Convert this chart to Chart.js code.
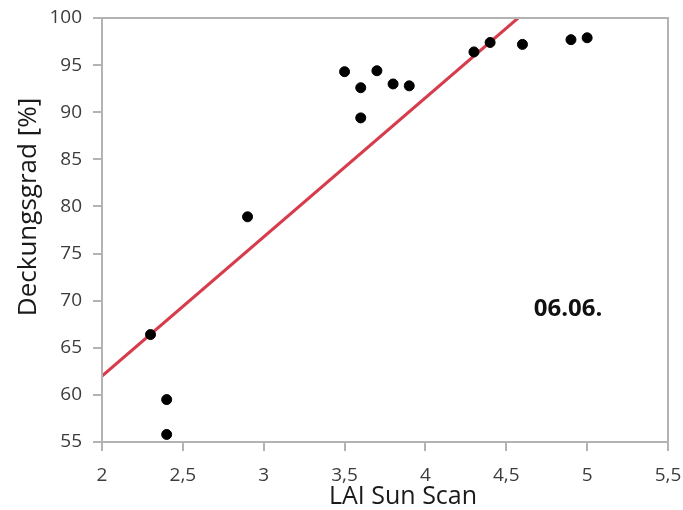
<!DOCTYPE html>
<html>
<head>
<meta charset="utf-8">
<script src="https://cdn.jsdelivr.net/npm/chart.js@4/dist/chart.umd.min.js"></script>
<style>
  html, body { margin: 0; padding: 0; background: #fff; }
  #wrap { width: 683px; height: 510px; }
</style>
</head>
<body>
<div id="wrap"><canvas id="myChart"></canvas></div>
<script>
// measured points: LAI (Sun Scan) vs. Deckungsgrad
let laiValues = [2.3, 2.4, 2.4, 2.9, 3.5, 3.6, 3.6, 3.7, 3.8, 3.9, 4.3, 4.4, 4.6, 4.9, 5.0];
let coverValues = [66.4, 59.5, 55.8, 78.9, 94.3, 92.6, 89.4, 94.4, 93.0, 92.8, 96.4, 97.4, 97.2, 97.7, 97.9];

// fitted line
let trendX = [2, 4.573];
let trendY = [62.0, 100];

let xTicks = [2, 2.5, 3, 3.5, 4, 4.5, 5, 5.5];
let yTicks = [55, 60, 65, 70, 75, 80, 85, 90, 95, 100];

let xTitle = "LAI Sun Scan";
let yTitle = "Deckungsgrad [%]";
let dateLabel = "06.06.";
let datePos = { x: 4.882, y: 69.1 };

let axisGrey = "#b3b3b3";
let tickFont = { family: "Open Sans", size: 19 };

let points = [];
for (let i = 0; i < laiValues.length; i++) {
  points.push({ x: laiValues[i], y: coverValues[i] });
}

let trendPoints = [];
for (let i = 0; i < trendX.length; i++) {
  trendPoints.push({ x: trendX[i], y: trendY[i] });
}

// frame, axis titles and the date label
const extras = {
  id: "extras",
  afterDraw(chart) {
    const ctx = chart.ctx;
    const area = chart.chartArea;
    const xs = chart.scales.x;
    const ys = chart.scales.y;
    ctx.save();
    ctx.strokeStyle = axisGrey;
    ctx.lineWidth = 2;
    ctx.strokeRect(area.left, area.top, area.right - area.left, area.bottom - area.top);

    ctx.fillStyle = "#1a1a1a";
    ctx.font = "25px 'Open Sans'";
    ctx.textAlign = "center";
    ctx.textBaseline = "alphabetic";
    ctx.fillText(xTitle, 403, 504);

    ctx.translate(36, 207);
    ctx.rotate(-Math.PI / 2);
    ctx.font = "26px 'Open Sans'";
    ctx.fillText(yTitle, 0, 0);
    ctx.restore();

    ctx.save();
    ctx.fillStyle = "#111";
    ctx.font = "bold 24px 'Open Sans'";
    ctx.textAlign = "center";
    ctx.textBaseline = "middle";
    ctx.fillText(dateLabel, xs.getPixelForValue(datePos.x), ys.getPixelForValue(datePos.y));
    ctx.restore();
  },
};

const ctx = document.getElementById("myChart");

new Chart(ctx, {
  type: "scatter",
  data: {
    datasets: [
      {
        label: "Messwerte",
        data: points,
        backgroundColor: "#000",
        borderColor: "#000",
        pointRadius: 5,
        pointHoverRadius: 5,
        order: 0,
      },
      {
        label: "Trend",
        type: "line",
        data: trendPoints,
        borderColor: "#d63c4c",
        borderWidth: 3,
        pointRadius: 0,
        fill: false,
        order: 1,
      },
    ],
  },
  options: {
    responsive: true,
    maintainAspectRatio: false,
    animation: false,
    layout: {
      padding: { top: 18, right: 15, left: 0, bottom: 0 },
    },
    plugins: {
      legend: { display: false },
      tooltip: { enabled: false },
    },
    scales: {
      x: {
        type: "linear",
        min: xTicks[0],
        max: xTicks[xTicks.length - 1],
        afterBuildTicks: (scale) => {
          scale.ticks = xTicks.map((v) => ({ value: v }));
        },
        afterFit: (scale) => {
          scale.height = 68;
          scale.paddingLeft = 0;
          scale.paddingRight = 0;
        },
        grid: {
          drawOnChartArea: false,
          drawTicks: true,
          tickLength: 9,
          color: axisGrey,
          lineWidth: 2,
        },
        border: { color: axisGrey, width: 2 },
        ticks: {
          padding: 13,
          color: "#3c3c3c",
          font: tickFont,
          maxRotation: 0,
          callback: (v) => String(v).replace(".", ","),
        },
      },
      y: {
        type: "linear",
        min: yTicks[0],
        max: yTicks[yTicks.length - 1],
        afterBuildTicks: (scale) => {
          scale.ticks = yTicks.map((v) => ({ value: v }));
        },
        afterFit: (scale) => {
          scale.width = 102;
          scale.paddingTop = 0;
          scale.paddingBottom = 0;
        },
        grid: {
          drawOnChartArea: false,
          drawTicks: true,
          tickLength: 9,
          color: axisGrey,
          lineWidth: 2,
        },
        border: { color: axisGrey, width: 2 },
        ticks: {
          padding: 11,
          color: "#3c3c3c",
          font: tickFont,
          callback: (v) => String(v),
        },
      },
    },
  },
  plugins: [extras],
});
</script>
</body>
</html>
